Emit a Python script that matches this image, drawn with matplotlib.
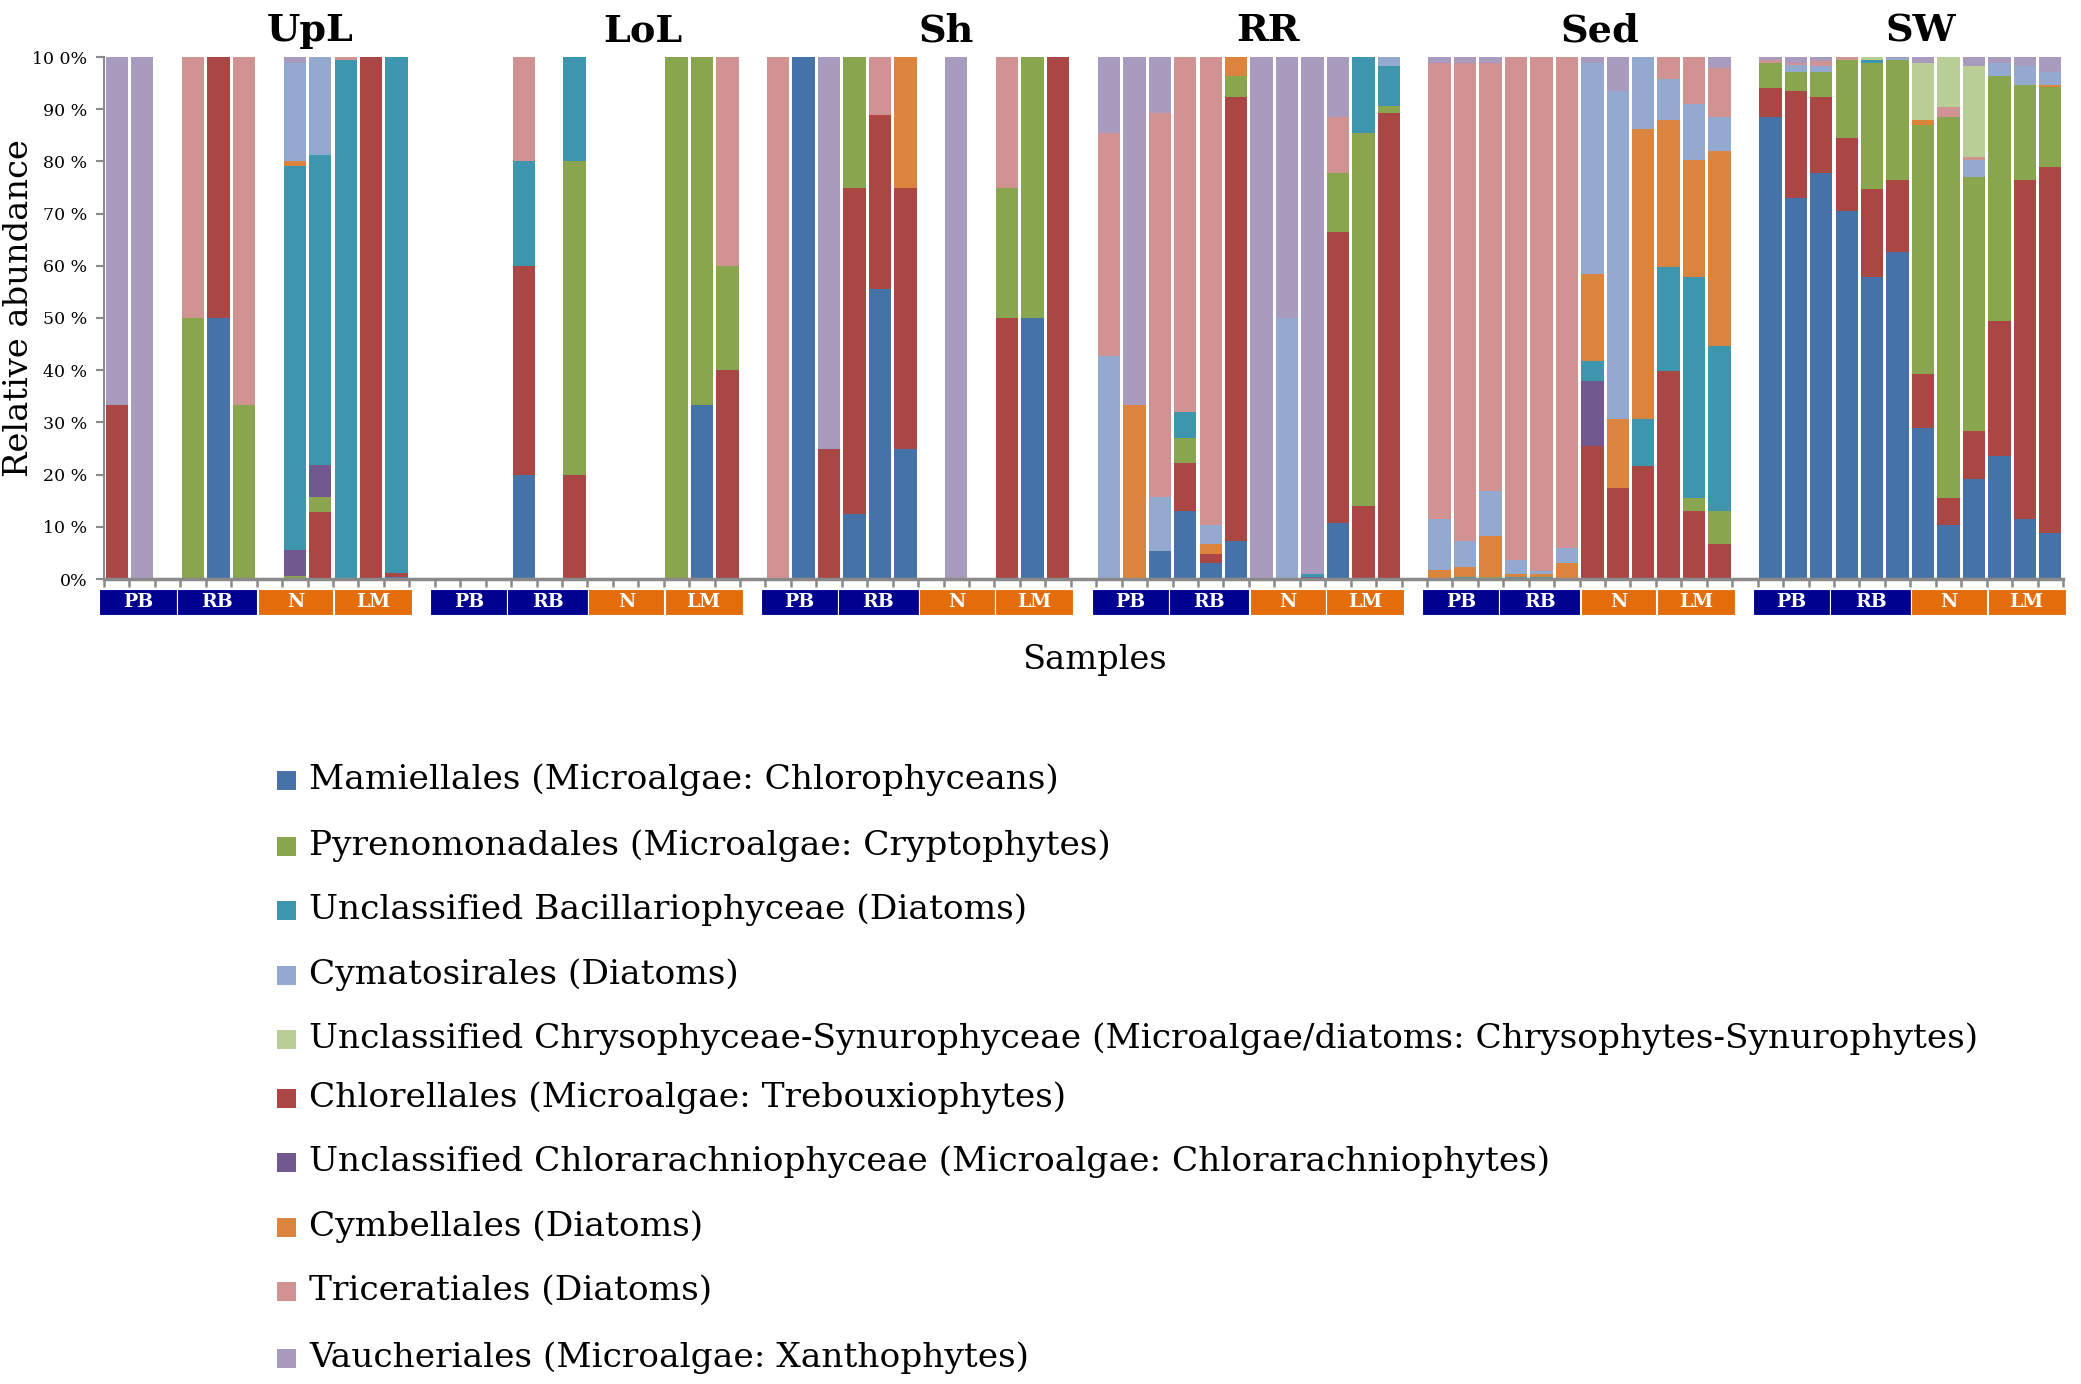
import matplotlib
matplotlib.use('Agg')
import matplotlib.pyplot as plt
import numpy as np
from matplotlib.patches import Rectangle
import matplotlib.transforms as mtrans

# ---------------- data ----------------
panels = ['UpL', 'LoL', 'Sh', 'RR', 'Sed', 'SW']
groups = ['PB', 'RB', 'N', 'LM']
group_colors = ['#00008F', '#00008F', '#E46C0A', '#E46C0A']

# relative abundance (%) of each taxon, 12 samples per panel
# (PB x3, RB x3, N x3, LM x3), panels in order UpL, LoL, Sh, RR, Sed, SW
mamiellales = [0, 0, 0, 0, 50, 0, 0, 0, 0, 0, 0, 0.4,
               0, 0, 0, 20, 0, 0, 0, 0, 0, 0, 33.3, 0,
               0, 100, 0, 12.5, 55.6, 25, 0, 0, 0, 0, 50, 0,
               0, 0, 5.4, 13.1, 3.0, 7.3, 0, 0, 0, 10.8, 0, 0,
               0, 0, 0, 0, 0, 0, 0, 0, 0.2, 0, 0, 0,
               88.5, 72.9, 77.7, 70.5, 57.9, 62.6, 28.9, 10.4, 19.2, 23.5, 11.4, 8.9]
chlorellales = [33.3, 0, 0, 0, 50, 0, 0, 0, 12.8, 0, 100, 0.8,
                0, 0, 0, 40, 0, 20, 0, 0, 0, 0, 0, 40,
                0, 0, 25, 62.5, 33.3, 50, 0, 0, 0, 50, 0, 100,
                0, 0, 0, 9.2, 1.8, 85.0, 0, 0, 0, 55.6, 13.9, 89.2,
                0, 0, 0, 0, 0, 0, 25.4, 17.5, 21.5, 39.8, 13.1, 6.7,
                5.5, 20.5, 14.6, 13.9, 16.8, 13.9, 10.3, 5.2, 9.2, 25.9, 65.1, 70.1]
pyrenomonadales = [0, 0, 0, 50, 0, 33.3, 0, 0.5, 3.0, 0, 0, 0,
                   0, 0, 0, 0, 0, 60, 0, 0, 0, 100, 66.7, 20,
                   0, 0, 0, 25, 0, 0, 0, 0, 0, 25, 50, 0,
                   0, 0, 0, 4.7, 0, 4.1, 0, 0, 0, 11.3, 71.6, 1.4,
                   0, 0, 0.3, 0, 0, 0, 0, 0, 0, 0, 2.5, 6.4,
                   4.8, 3.7, 4.8, 15.1, 24.1, 22.9, 47.7, 73.0, 48.6, 47.0, 18.2, 15.2]
chlorarachnio = [0, 0, 0, 0, 0, 0, 0, 5.0, 6.0, 0, 0, 0,
                 0, 0, 0, 0, 0, 0, 0, 0, 0, 0, 0, 0,
                 0, 0, 0, 0, 0, 0, 0, 0, 0, 0, 0, 0,
                 0, 0, 0, 0, 0, 0, 0, 0, 0.4, 0, 0, 0,
                 0, 0, 0, 0, 0, 0, 12.5, 0, 0, 0, 0, 0,
                 0, 0, 0, 0, 0, 0, 0, 0, 0, 0, 0, 0]
bacillario = [0, 0, 0, 0, 0, 0, 0, 73.6, 59.4, 99.5, 0, 98.8,
              0, 0, 0, 20, 0, 20, 0, 0, 0, 0, 0, 0,
              0, 0, 0, 0, 0, 0, 0, 0, 0, 0, 0, 0,
              0, 0, 0, 5.0, 0, 0, 0, 0, 0.6, 0, 14.5, 7.7,
              0, 0.3, 0, 0.4, 0.4, 0, 3.8, 0, 9.0, 19.9, 42.3, 31.5,
              0, 0, 0, 0, 0.7, 0, 0, 0, 0, 0, 0, 0]
cymbellales = [0, 0, 0, 0, 0, 0, 0, 1.0, 0, 0, 0, 0,
               0, 0, 0, 0, 0, 0, 0, 0, 0, 0, 0, 0,
               0, 0, 0, 0, 0, 25, 0, 0, 0, 0, 0, 0,
               0, 33.3, 0, 0, 1.9, 3.6, 0, 0, 0, 0, 0, 0,
               1.7, 2.0, 8.0, 0.6, 0.6, 3.0, 16.8, 13.2, 55.6, 28.3, 22.4, 37.3,
               0, 0, 0, 0, 0, 0, 1.1, 0, 0, 0, 0, 0.5]
cymatosirales = [0, 0, 0, 0, 0, 0, 0, 18.8, 18.8, 0, 0, 0,
                 0, 0, 0, 0, 0, 0, 0, 0, 0, 0, 0, 0,
                 0, 0, 0, 0, 0, 0, 0, 0, 0, 0, 0, 0,
                 42.8, 0, 10.4, 0, 3.7, 0, 0, 50, 0, 0, 0, 1.7,
                 9.7, 5.0, 8.5, 2.6, 0.5, 3.0, 40.4, 62.8, 13.7, 7.8, 10.7, 6.7,
                 0, 1.3, 1.1, 0, 0, 0.4, 0, 0, 3.3, 2.4, 3.6, 2.4]
triceratiales = [0, 0, 0, 50, 0, 66.7, 0, 0, 0, 0.5, 0, 0,
                 0, 0, 0, 20, 0, 0, 0, 0, 0, 0, 0, 40,
                 100, 0, 0, 0, 11.1, 0, 0, 0, 0, 25, 0, 0,
                 42.7, 0, 73.4, 68.0, 89.6, 0, 0, 0, 0, 10.8, 0, 0,
                 87.5, 91.5, 82.0, 96.4, 98.5, 94.0, 0, 0, 0, 4.2, 9.0, 9.2,
                 0.6, 0.5, 1.0, 0.5, 0, 0, 0, 1.8, 0.6, 0, 0, 0]
chrysophyceae = [0, 0, 0, 0, 0, 0, 0, 0, 0, 0, 0, 0,
                 0, 0, 0, 0, 0, 0, 0, 0, 0, 0, 0, 0,
                 0, 0, 0, 0, 0, 0, 0, 0, 0, 0, 0, 0,
                 0, 0, 0, 0, 0, 0, 0, 0, 0, 0, 0, 0,
                 0, 0, 0, 0, 0, 0, 0, 0, 0, 0, 0, 0,
                 0, 0, 0, 0, 0.5, 0, 10.9, 9.6, 17.4, 0, 0, 0]
vaucheriales = [66.7, 100, 0, 0, 0, 0, 0, 1.1, 0, 0, 0, 0,
                0, 0, 0, 0, 0, 0, 0, 0, 0, 0, 0, 0,
                0, 0, 75, 0, 0, 0, 0, 100, 0, 0, 0, 0,
                14.5, 66.7, 10.8, 0, 0, 0, 100, 50, 99.0, 11.5, 0, 0,
                1.1, 1.2, 1.2, 0, 0, 0, 1.1, 6.5, 0, 0, 0, 2.2,
                0.6, 1.1, 0.8, 0, 0, 0.2, 1.1, 0, 1.7, 1.2, 1.7, 2.9]

labels = {
    'mam': 'Mamiellales (Microalgae: Chlorophyceans)',
    'pyr': 'Pyrenomonadales (Microalgae: Cryptophytes)',
    'bac': 'Unclassified Bacillariophyceae (Diatoms)',
    'cyma': 'Cymatosirales (Diatoms)',
    'chry': 'Unclassified Chrysophyceae-Synurophyceae (Microalgae/diatoms: Chrysophytes-Synurophytes)',
    'chl': 'Chlorellales (Microalgae: Trebouxiophytes)',
    'chlor': 'Unclassified Chlorarachniophyceae (Microalgae: Chlorarachniophytes)',
    'cymb': 'Cymbellales (Diatoms)',
    'tric': 'Triceratiales (Diatoms)',
    'vauch': 'Vaucheriales (Microalgae: Xanthophytes)',
}
colors = {
    'mam': '#4572A7', 'pyr': '#89A54E', 'bac': '#3D96AE', 'cyma': '#93A9CF',
    'chry': '#B9CD96', 'chl': '#AA4643', 'chlor': '#71588F', 'cymb': '#DB843D',
    'tric': '#D19392', 'vauch': '#A99BBD',
}
values = {
    'mam': mamiellales, 'chl': chlorellales, 'pyr': pyrenomonadales,
    'chlor': chlorarachnio, 'bac': bacillario, 'cymb': cymbellales,
    'cyma': cymatosirales, 'tric': triceratiales, 'chry': chrysophyceae,
    'vauch': vaucheriales,
}
stack_order = ['mam', 'chl', 'pyr', 'chlor', 'bac', 'cymb', 'cyma', 'tric', 'chry', 'vauch']
legend_order = ['mam', 'pyr', 'bac', 'cyma', 'chry', 'chl', 'chlor', 'cymb', 'tric', 'vauch']

ytick_labels = ['0%', '10 %', '20 %', '30 %', '40 %', '50 %', '60 %', '70 %', '80 %', '90 %', '10 0%']

# ---------------- layout ----------------
W, H = 2081, 1384
SERIF = 'DejaVu Serif'
fig = plt.figure(figsize=(W / 100, H / 100), dpi=100)
ax_l, ax_r, ax_t, ax_b = 104, 2063, 57, 579
ax = fig.add_axes([ax_l / W, 1 - ax_b / H, (ax_r - ax_l) / W, (ax_b - ax_t) / H])

n_per = 12
stride = 13
x = np.concatenate([p * stride + np.arange(n_per) + 0.5 for p in range(len(panels))])

bottom = np.zeros(len(x))
for key in stack_order:
    v = np.array(values[key], dtype=float)
    ax.bar(x, v, bottom=bottom, width=0.88, color=colors[key], linewidth=0)
    bottom += v

ax.set_xlim(0, stride * len(panels) - 1)
ax.set_ylim(0, 100)
ax.set_xticks(np.arange(0, stride * len(panels)))
ax.set_xticklabels([])
ax.set_yticks(np.arange(0, 101, 10))
ax.set_yticklabels(ytick_labels, family=SERIF, fontsize=12.5)
grey = '#8A8A8A'
ax.tick_params(axis='x', direction='out', length=6, width=1.8, color=grey)
ax.tick_params(axis='y', direction='out', length=6, width=1.5, color=grey, pad=6)
for s in ['top', 'right']:
    ax.spines[s].set_visible(False)
ax.spines['left'].set_color(grey)
ax.spines['left'].set_linewidth(1.5)
ax.spines['bottom'].set_color(grey)
ax.spines['bottom'].set_linewidth(2.5)

trans = mtrans.blended_transform_factory(ax.transData, ax.transAxes)
box_spans = [(-0.18, 2.85), (2.85, 6.02), (6.04, 9.02), (9.04, 12.1)]
y_box_top = (ax_b - 589) / (ax_b - ax_t)
y_box_bot = (ax_b - 615) / (ax_b - ax_t)
group_texts = []
for p in range(len(panels)):
    for g, (x0, x1) in enumerate(box_spans):
        ax.add_patch(Rectangle((p * stride + x0, y_box_bot), x1 - x0, y_box_top - y_box_bot,
                               transform=trans, clip_on=False, facecolor=group_colors[g],
                               edgecolor='white', linewidth=0.8))
        t = ax.text(p * stride + (x0 + x1) / 2, (y_box_top + y_box_bot) / 2, groups[g],
                    transform=trans, ha='center', va='center', color='white',
                    family=SERIF, fontweight='bold', fontsize=12)
        group_texts.append(t)

title_offsets = [8.1, 8.2, 7.1, 6.75, 6.8, 6.4]
title_texts = []
for p, name in enumerate(panels):
    t = ax.text(p * stride + title_offsets[p], (ax_b - 41) / (ax_b - ax_t), name,
                transform=trans, ha='center', va='baseline', family=SERIF,
                fontweight='bold', fontsize=26)
    title_texts.append(t)

xl = fig.text(1094 / W, 1 - 660 / H, 'Samples', ha='center', va='center',
              family=SERIF, fontsize=22)
yl = fig.text(19 / W, 1 - 308 / H, 'Relative abundance', ha='center', va='center',
              rotation=90, family=SERIF, fontsize=26)

legend_y = [780, 846, 910, 975, 1039, 1098, 1162, 1227, 1291, 1358]
leg_texts = []
for i, key in enumerate(legend_order):
    yc = legend_y[i]
    fig.patches.append(Rectangle((277 / W, 1 - (yc + 9.5) / H), 19 / W, 19 / H,
                                 transform=fig.transFigure, facecolor=colors[key],
                                 edgecolor='none'))
    t = fig.text(309 / W, 1 - yc / H, labels[key], ha='left', va='center',
                 family=SERIF, fontsize=22)
    leg_texts.append(t)

# ---- fit text sizes to the reference widths ----
renderer = fig.canvas.get_renderer()


def fit(t, target, use_height=False):
    bb = t.get_window_extent(renderer)
    cur = bb.height if use_height else bb.width
    t.set_fontsize(t.get_fontsize() * target / cur)


fit(leg_texts[4], 1665)
for t in leg_texts:
    t.set_fontsize(leg_texts[4].get_fontsize())
fit(title_texts[0], 87)
for t in title_texts:
    t.set_fontsize(title_texts[0].get_fontsize())
fit(xl, 144)
fit(yl, 338, use_height=True)
fit(group_texts[3], 34)
for t in group_texts:
    t.set_fontsize(group_texts[3].get_fontsize())

fig.savefig('out.png', dpi=100, facecolor='white')
